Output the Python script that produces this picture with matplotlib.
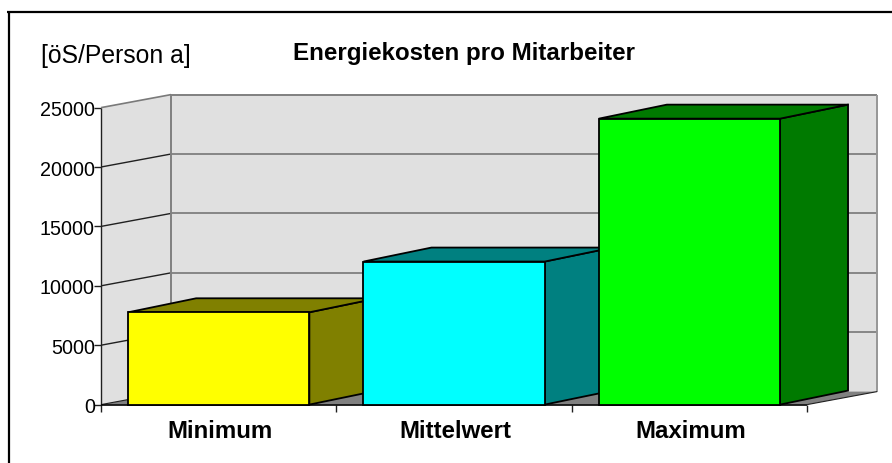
import matplotlib
matplotlib.use('Agg')
import matplotlib.pyplot as plt
from matplotlib.patches import Polygon
from matplotlib.lines import Line2D

categories = ['Minimum', 'Mittelwert', 'Maximum']
values = [7770, 12040, 24070]
front_colors = ['#ffff00', '#00ffff', '#00ff00']
side_colors = ['#808000', '#008080', '#007a00']
yticks = [0, 5000, 10000, 15000, 20000, 25000]

W, H = 892, 464
plt.rcParams['font.family'] = ['Liberation Sans', 'DejaVu Sans']

fig = plt.figure(figsize=(W / 100, H / 100), dpi=100)

# front plane of the box: x 101-807, y 108-405 in pixels
ax = fig.add_axes([101.1 / W, 1 - 405.6 / H, 706 / W, 297 / H])
ax.set_xlim(0, 3)
ax.set_ylim(0, 25000)
ax.patch.set_visible(False)
for s in ax.spines.values():
    s.set_visible(False)

# depth offset of the box and of the bars, in data units
dx = 70 / 706 * 3
dy = 13 / 297 * 25000
bdx = 68 / 706 * 3
bdy = 14 / 297 * 25000
grey = '#808080'
wall = '#e0e0e0'


def poly(pts, fc, ec='none', lw=0, z=1):
    ax.add_patch(Polygon(pts, closed=True, fc=fc, ec=ec, lw=lw, zorder=z,
                         clip_on=False, joinstyle='miter'))


def line(xs, ys, color, lw=1.0, z=2):
    ax.add_line(Line2D(xs, ys, color=color, lw=lw, zorder=z, clip_on=False,
                       solid_capstyle='butt'))


# walls and floor
poly([(dx, dy), (3 + dx, dy), (3 + dx, 25000 + dy), (dx, 25000 + dy)], wall)
poly([(0, 0), (dx, dy), (dx, 25000 + dy), (0, 25000)], wall)
poly([(0, 0), (3, 0), (3 + dx, dy), (dx, dy)], grey)

for t in yticks[1:-1]:
    line([dx, 3 + dx], [t + dy, t + dy], '#6e6e6e', 1.1)
    line([0, dx], [t, t + dy], '#202020', 1.0)

line([0, dx], [25000, 25000 + dy], '#7a7a7a', 1.2)
line([dx, 3 + dx], [25000 + dy, 25000 + dy], grey, 1.4)
line([dx, dx], [dy, 25000 + dy], grey, 1.4)
line([3 + dx, 3 + dx], [dy, 25000 + dy], '#969696', 1.4)
line([0, 0], [0, 25000], '#202020', 1.0, 6)
line([0, 3], [0, 0], '#000000', 1.2, 6)
line([0, dx], [0, dy], '#202020', 0.8)
line([3, 3 + dx], [0, dy], '#202020', 0.8)

# bars
width = 0.77
for i, v in enumerate(values):
    x0 = i + 0.5 - width / 2
    x1 = i + 0.5 + width / 2
    z = 10 + i * 3
    poly([(x1, 0), (x1 + bdx, bdy), (x1 + bdx, v + bdy), (x1, v)],
         side_colors[i], 'black', 1.3, z)
    poly([(x0, v), (x1, v), (x1 + bdx, v + bdy), (x0 + bdx, v + bdy)],
         side_colors[i], 'black', 1.3, z)
    ax.bar(i + 0.5, v, width, color=front_colors[i], edgecolor='black',
           linewidth=1.3, zorder=z + 1, clip_on=False)

ax.set_yticks(yticks)
ax.set_xticks([0, 1, 2, 3])
ax.set_xticklabels([])
ax.tick_params(axis='y', length=5, width=1, color='#202020', pad=-0.5, labelsize=14.2)
ax.tick_params(axis='x', length=5, width=1, color='#202020')

for i, c in enumerate(categories):
    ax.text(i + 0.507, -2150, c, ha='center', va='center', fontsize=17.3,
            fontweight='bold')

# frame, only left and top are in the picture
fig.add_artist(Line2D([8.5 / W, 8.5 / W], [0, 1 - 11.5 / H], color='black', lw=1.6,
                      solid_capstyle='butt'))
fig.add_artist(Line2D([7.4 / W, 1], [1 - 12.5 / H, 1 - 12.5 / H], color='black', lw=1.6,
                      solid_capstyle='butt'))

fig.text(41 / W, 1 - 56 / H, '[öS/Person a]', fontsize=17.8, va='center', ha='left')
fig.text(464 / W, 1 - 53.5 / H, 'Energiekosten pro Mitarbeiter', fontsize=17.4,
         fontweight='bold', va='center', ha='center')

fig.savefig('out.png', dpi=100, facecolor='white')
